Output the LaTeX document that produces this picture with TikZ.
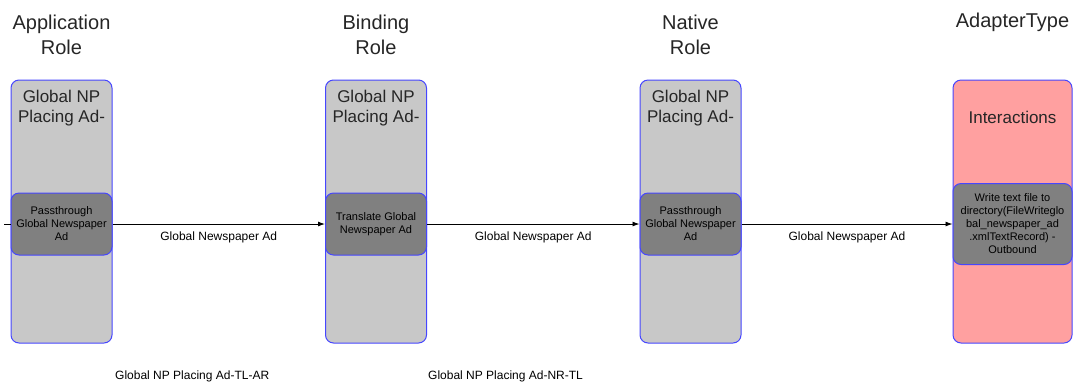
\documentclass[tikz,border=0pt]{standalone}
\usepackage{fontspec}
\setmainfont{Liberation Sans}
\usepackage{xcolor}
\definecolor{laneblue}{RGB}{70,70,255}
\definecolor{lanegray}{RGB}{200,200,200}
\definecolor{taskgray}{RGB}{128,128,128}
\definecolor{adapterpink}{RGB}{255,160,160}
\usetikzlibrary{arrows.meta, positioning}

\begin{document}
\begin{tikzpicture}[x=1pt, y=-1pt,
        lane/.style={rectangle, rounded corners=8pt, draw=laneblue, line width=1pt, fill=#1, minimum width=101pt, minimum height=263pt, inner sep=0pt},
        task/.style={rectangle, rounded corners=8pt, draw=laneblue, line width=1pt, fill=taskgray, minimum width=101pt, minimum height=62pt, align=center, inner sep=0pt, font=\fontsize{11}{13}\selectfont},
        header/.style={align=center, inner sep=0pt, text=black!85, font=\fontsize{20}{25}\selectfont},
        lanetitle/.style={align=center, inner sep=0pt, text=black!85, font=\fontsize{17}{20}\selectfont},
        linklabel/.style={inner sep=0pt, font=\fontsize{12}{14}\selectfont},
        arrow/.style={-{Latex[length=7pt,width=5pt]}, line width=0.9pt, black}
    ]
        \useasboundingbox (0,0) rectangle (1073,384);

        % column headers
        \node[header] (happ) at (61.5,34.5) {Application\\Role};
        \node[header] (hbind) at (376,34.5) {Binding\\Role};
        \node[header] (hnat) at (690.5,34.5) {Native\\Role};
        \node[header] (hadapt) at (1012.5,22) {AdapterType};

        % lanes
        \node[lane=lanegray] (appl) at (61.5,211.5) {};
        \node[lane=lanegray] (bindl) at (376,211.5) {};
        \node[lane=lanegray] (natl) at (690.5,211.5) {};
        \node[lane=adapterpink, minimum width=119pt] (adaptl) at (1012.5,211.5) {};

        \node[lanetitle] (appt) at (61.5,108) {Global NP\\Placing Ad-};
        \node[lanetitle] (bindt) at (376,108) {Global NP\\Placing Ad-};
        \node[lanetitle] (natt) at (690.5,108) {Global NP\\Placing Ad-};
        \node[lanetitle] (adaptt) at (1012.5,117) {Interactions};

        % tasks
        \node[task] (apptask) at (61.5,224) {Passthrough\\Global Newspaper\\Ad};
        \node[task] (bindtask) at (376,224) {Translate Global\\Newspaper Ad};
        \node[task] (nattask) at (690.5,224) {Passthrough\\Global Newspaper\\Ad};
        \node[task, minimum width=119pt, minimum height=81pt] (adapttask) at (1012.5,224) {Write text file to\\directory(FileWriteglo\\bal\_newspaper\_ad\\.xmlTextRecord) -\\Outbound};

        % links
        \coordinate (entry) at (4,224);
        \draw[line width=0.9pt] (entry) -- (apptask);
        \draw[arrow] (apptask) -- node[linklabel, below=7pt] {Global Newspaper Ad} (bindtask);
        \draw[arrow] (bindtask) -- node[linklabel, below=7pt] {Global Newspaper Ad} (nattask);
        \draw[arrow] (nattask) -- node[linklabel, below=7pt] {Global Newspaper Ad} (adapttask);

        \node[linklabel, anchor=west] (tlar) at (115,376) {Global NP Placing Ad-TL-AR};
        \node[linklabel, anchor=west] (nrtl) at (428,376) {Global NP Placing Ad-NR-TL};
    \end{tikzpicture}
\end{document}
